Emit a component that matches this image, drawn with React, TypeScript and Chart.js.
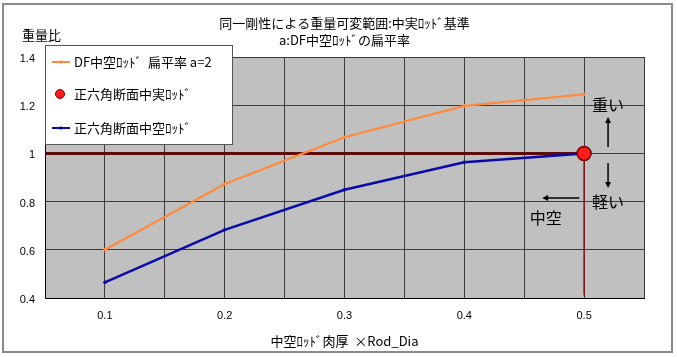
import { useEffect, useRef } from 'react';
import { Chart, registerables } from 'chart.js';

Chart.register(...registerables);

// ---- data ----
const thickness = [0.1, 0.2, 0.3, 0.4, 0.5];
const dfHollowRatio = [0.6, 0.873, 1.067, 1.197, 1.245];
const hexHollowRatio = [0.465, 0.683, 0.849, 0.963, 1.0];
const hexSolidX = [0.5];
const hexSolidRatio = [1.0];
const refLineX = [0.05, 0.5];
const refLineY = [1.0, 1.0];
const refDropX = [0.5, 0.5];
const refDropY = [1.0, 0.41];
const xLabelValues = [0.1, 0.2, 0.3, 0.4, 0.5];

const titleLines = ['同一剛性による重量可変範囲:中実ﾛｯﾄﾞ基準', 'a:DF中空ﾛｯﾄﾞの扁平率'];
const yAxisTitle = '重量比';
const xAxisTitle = '中空ﾛｯﾄﾞ肉厚  ×Rod_Dia';
const seriesLabels = ['DF中空ﾛｯﾄﾞ  扁平率 a=2', '正六角断面中実ﾛｯﾄﾞ', '正六角断面中空ﾛｯﾄﾞ'];
const noteHeavy = '重い';
const noteLight = '軽い';
const noteHollow = '中空';

const JP = '"Noto Sans CJK JP", "Liberation Sans", sans-serif';
const NUM = '"Liberation Sans", Arial, sans-serif';

const ORANGE = '#FF8A3D';
const BLUE = '#0A0AA8';
const RED = '#FF1C1C';
const MAROON = '#5E0B0B';

function arrow(ctx: CanvasRenderingContext2D, x1: number, y1: number, x2: number, y2: number) {
  const ang = Math.atan2(y2 - y1, x2 - x1);
  const hl = 6, hw = 3;
  ctx.beginPath();
  ctx.moveTo(x1, y1);
  ctx.lineTo(x2 - Math.cos(ang) * hl * 0.8, y2 - Math.sin(ang) * hl * 0.8);
  ctx.stroke();
  ctx.beginPath();
  ctx.moveTo(x2, y2);
  ctx.lineTo(x2 - Math.cos(ang) * hl - Math.sin(ang) * hw, y2 - Math.sin(ang) * hl + Math.cos(ang) * hw);
  ctx.lineTo(x2 - Math.cos(ang) * hl + Math.sin(ang) * hw, y2 - Math.sin(ang) * hl - Math.cos(ang) * hw);
  ctx.closePath();
  ctx.fill();
}

const decorPlugin = {
  id: 'decor',
  beforeDraw(chart: any) {
    const { ctx, chartArea: a } = chart;
    ctx.save();
    ctx.fillStyle = '#ffffff';
    ctx.fillRect(0, 0, chart.width, chart.height);
    ctx.fillStyle = '#C0C0C0';
    ctx.fillRect(a.left, a.top, a.right - a.left, a.bottom - a.top);
    ctx.restore();
  },
  afterDraw(chart: any) {
    const { ctx, chartArea: a } = chart;
    const xs = chart.scales.x;
    const ys = chart.scales.y;
    ctx.save();
    // outer frame
    ctx.strokeStyle = '#8a8a8a';
    ctx.lineWidth = 2;
    ctx.strokeRect(3, 4, chart.width - 8, chart.height - 9);

    // y axis title
    ctx.fillStyle = '#000';
    ctx.font = '13px ' + JP;
    ctx.textAlign = 'left';
    ctx.textBaseline = 'middle';
    ctx.fillText(yAxisTitle, 22, 35);

    // legend box
    const lx = a.left, ly = a.top - 12, lw = 187, lh = 99;
    ctx.fillStyle = '#ffffff';
    ctx.fillRect(lx, ly, lw, lh);
    ctx.strokeStyle = '#555';
    ctx.lineWidth = 1;
    ctx.strokeRect(lx + 0.5, ly + 0.5, lw, lh);

    const ds = chart.data.datasets;
    const items = [ds[0], ds[1], ds[2]];
    const rowY = [ly + 17, ly + 49, ly + 83];
    items.forEach((d: any, i: number) => {
      const cy = rowY[i];
      if (d.showLine === false) {
        ctx.beginPath();
        ctx.arc(lx + 15, cy, 4.5, 0, Math.PI * 2);
        ctx.fillStyle = d.backgroundColor;
        ctx.fill();
        ctx.strokeStyle = d.borderColor;
        ctx.lineWidth = 1;
        ctx.stroke();
      } else {
        ctx.strokeStyle = d.borderColor;
        ctx.lineWidth = 2;
        ctx.beginPath();
        ctx.moveTo(lx + 7, cy);
        ctx.lineTo(lx + 25, cy);
        ctx.stroke();
        ctx.lineWidth = 1;
        ctx.beginPath();
        ctx.moveTo(lx + 16, cy - 2);
        ctx.lineTo(lx + 16, cy + 2);
        ctx.stroke();
      }
      ctx.fillStyle = '#000';
      ctx.font = '13px ' + JP;
      ctx.textAlign = 'left';
      ctx.textBaseline = 'middle';
      ctx.fillText(d.label, lx + 29, cy);
    });

    // annotations
    ctx.fillStyle = '#000';
    ctx.strokeStyle = '#000';
    ctx.lineWidth = 1.5;
    ctx.font = '16px ' + JP;
    ctx.textAlign = 'center';
    ctx.textBaseline = 'middle';
    const px = xs.getPixelForValue(0.52);
    ctx.fillText(noteHeavy, px, ys.getPixelForValue(1.2));
    ctx.fillText(noteLight, px, ys.getPixelForValue(0.8));
    ctx.fillText(noteHollow, xs.getPixelForValue(0.468), ys.getPixelForValue(0.732));
    arrow(ctx, px, ys.getPixelForValue(1.027), px, ys.getPixelForValue(1.151));
    arrow(ctx, px, ys.getPixelForValue(0.96), px, ys.getPixelForValue(0.856));
    const ay = ys.getPixelForValue(0.815);
    arrow(ctx, xs.getPixelForValue(0.496), ay, xs.getPixelForValue(0.465), ay);
    ctx.restore();
  },
};

export default function App() {
  const ref = useRef<HTMLCanvasElement>(null);
  useEffect(() => {
    if (!ref.current) return;
    const chart = new Chart(ref.current, {
      type: 'scatter',
      data: {
        datasets: [
          {
            label: seriesLabels[0],
            data: thickness.map((x, i) => ({ x, y: dfHollowRatio[i] })),
            showLine: true,
            borderColor: ORANGE,
            backgroundColor: ORANGE,
            borderWidth: 2.2,
            pointRadius: 1.8,
            pointBorderWidth: 0,
            order: 2,
          },
          {
            label: seriesLabels[1],
            data: hexSolidX.map((x, i) => ({ x, y: hexSolidRatio[i] })),
            showLine: false,
            borderColor: '#7A0000',
            backgroundColor: RED,
            borderWidth: 1.5,
            pointRadius: 7,
            order: 0,
          },
          {
            label: seriesLabels[2],
            data: thickness.map((x, i) => ({ x, y: hexHollowRatio[i] })),
            showLine: true,
            borderColor: BLUE,
            backgroundColor: BLUE,
            borderWidth: 2.5,
            pointRadius: 1.8,
            pointBorderWidth: 0,
            order: 1,
          },
          {
            label: '',
            data: refLineX.map((x, i) => ({ x, y: refLineY[i] })),
            showLine: true,
            borderColor: MAROON,
            borderWidth: 3,
            pointRadius: 0,
            order: 3,
          },
          {
            label: '',
            data: refDropX.map((x, i) => ({ x, y: refDropY[i] })),
            showLine: true,
            borderColor: '#8A1414',
            borderWidth: 1.5,
            pointRadius: 0,
            order: 3,
          },
        ],
      },
      options: {
        animation: false,
        responsive: false,
        devicePixelRatio: 1,
        events: [],
        layout: { padding: { left: 0, right: 33, top: 0, bottom: 0 } },
        plugins: {
          legend: { display: false },
          tooltip: { enabled: false },
          title: {
            display: true,
            fullSize: false,
            text: titleLines,
            color: '#000',
            font: { family: JP, size: 13, weight: 'normal', lineHeight: '17px' },
            padding: { top: 14.5, bottom: 8.5 },
          },
        },
        scales: {
          x: {
            type: 'linear',
            min: 0.05,
            max: 0.55,
            afterFit: (s: any) => { s.height = 59; },
            ticks: {
              stepSize: 0.05,
              autoSkip: false,
              maxRotation: 0,
              padding: 11,
              color: '#000',
              font: { family: NUM, size: 11 },
              callback: (v: any) => {
                const m = xLabelValues.find((t) => Math.abs(t - Number(v)) < 1e-6);
                return m !== undefined ? m.toFixed(1) : '';
              },
            },
            grid: { color: '#3a3a3a', lineWidth: 1, drawTicks: false },
            border: { display: true, color: '#000', width: 1 },
            title: {
              display: true,
              text: xAxisTitle,
              color: '#000',
              font: { family: JP, size: 13 },
              padding: { top: 0, bottom: 8 },
            },
          },
          y: {
            min: 0.4,
            max: 1.4,
            afterFit: (s: any) => { s.width = 45; },
            ticks: {
              stepSize: 0.2,
              padding: 10,
              labelOffset: 2,
              color: '#000',
              font: { family: NUM, size: 11 },
              callback: (v: any) => String(Math.round(Number(v) * 10) / 10),
            },
            grid: { color: '#3a3a3a', lineWidth: 1, drawTicks: false },
            border: { display: true, color: '#000', width: 1 },
          },
        },
      },
      plugins: [decorPlugin],
    } as any);
    return () => chart.destroy();
  }, []);
  return (
    <div style={{ position: 'absolute', left: 0, top: 0, width: 677, height: 357 }}>
      <canvas ref={ref} width={677} height={357} style={{ display: 'block' }} />
    </div>
  );
}
